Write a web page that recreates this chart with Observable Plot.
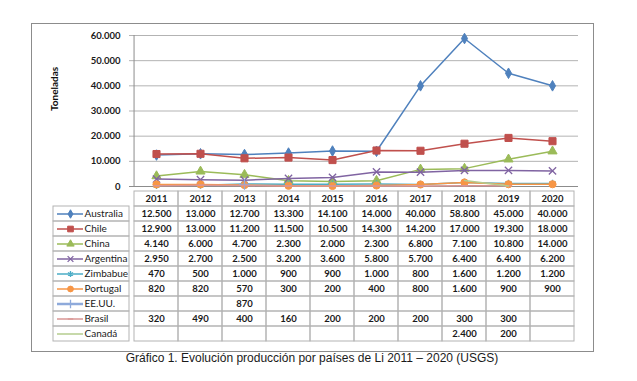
<!DOCTYPE html>
<html>
<head>
<meta charset="utf-8">
<script src="https://cdn.jsdelivr.net/npm/d3@7"></script>
<script src="https://cdn.jsdelivr.net/npm/@observablehq/plot@0.6"></script>
<style>
  html, body { margin: 0; padding: 0; background: #fff; }
  #wrap { position: relative; width: 637px; height: 381px; overflow: hidden; background: #fff; }
  #wrap svg { position: absolute; left: 0; top: 0; }
  #frame { position: absolute; left: 31px; top: 23px; width: 563px; height: 329px; box-sizing: border-box; border: 1px solid #8c8c8c; }
  #caption { position: absolute; left: 0; top: 352px; width: 624px; text-align: center; font: 12px "Liberation Sans", Arial, sans-serif; line-height: 12px; color: #1a1a1a; white-space: nowrap; }
</style>
</head>
<body>
<div id="wrap">
  <div id="frame"></div>
  <div id="caption">Gráfico 1. Evolución producción por países de Li 2011 – 2020 (USGS)</div>
</div>
<script>
// ---- Data ----
const years = ["2011","2012","2013","2014","2015","2016","2017","2018","2019","2020"];
const countries = ["Australia","Chile","China","Argentina","Zimbabue","Portugal","EE.UU.","Brasil","Canadá"];
const australia = [12500,13000,12700,13300,14100,14000,40000,58800,45000,40000];
const chile     = [12900,13000,11200,11500,10500,14300,14200,17000,19300,18000];
const china     = [4140,6000,4700,2300,2000,2300,6800,7100,10800,14000];
const argentina = [2950,2700,2500,3200,3600,5800,5700,6400,6400,6200];
const zimbabue  = [470,500,1000,900,900,1000,800,1600,1200,1200];
const portugal  = [820,820,570,300,200,400,800,1600,900,900];
const eeuu      = [null,null,870,null,null,null,null,null,null,null];
const brasil    = [320,490,400,160,200,200,200,300,300,null];
const canada    = [null,null,null,null,null,null,null,2400,200,null];
const yTicks = [0,10000,20000,30000,40000,50000,60000];
const yLabel = "Toneladas";
const HEADER = "Año";

// ---- Styles ----
const seriesValues = [australia, chile, china, argentina, zimbabue, portugal, eeuu, brasil, canada];
const colors = ["#4F81BD","#C0504D","#9BBB59","#8064A2","#4BACC6","#F79646","#8EAADB","#D99694","#B5CC8E"];
const dash = {draw(ctx, size) { const r = Math.sqrt(size / Math.PI); ctx.moveTo(-r, 0); ctx.lineTo(r, 0); }};
const symbols = ["diamond","square","triangle","times","asterisk","circle","plus",dash,null];
const filled  = [true,true,true,false,false,true,false,false,false];
const radii   = [3.2,4,3.4,3.4,3.4,3.6,3.6,3.4,0];
const lineW   = [1.5,1.5,1.5,1.5,1.5,1.5,2.5,1.5,1.5];

const fmt = d3.formatLocale({decimal: ",", thousands: ".", grouping: [3], currency: ["", ""]}).format(",");
const rows = countries.flatMap((c, i) => years.map((y, j) => ({country: c, year: y, value: seriesValues[i][j]})));

const W = 637, H = 381;
const ML = 129, MR = 59;
const colW = (W - ML - MR) / years.length;
const FONT = "Lato, 'Open Sans', sans-serif";
const gridColor = "#b3b3b3";

function markerOpts(i, r) {
  return filled[i]
    ? {symbol: symbols[i], r, fill: colors[i], stroke: colors[i], strokeWidth: 1}
    : {symbol: symbols[i], r, fill: "none", stroke: colors[i], strokeWidth: 1.3};
}

// ---- Table (cells + numbers) ----
const table = Plot.plot({
  width: W, height: H,
  marginTop: 186, marginBottom: 35.5, marginLeft: ML, marginRight: MR,
  style: {background: "transparent", fontFamily: FONT, fontSize: "9.5px", overflow: "visible"},
  x: {type: "band", domain: years, padding: 0, axis: null},
  y: {type: "band", domain: [HEADER, ...countries], padding: 0, axis: null},
  marks: [
    Plot.cell(years, {x: d => d, y: () => HEADER, fill: "none", stroke: gridColor}),
    Plot.cell(rows, {x: "year", y: "country", fill: "none", stroke: gridColor}),
    Plot.text(years, {x: d => d, y: () => HEADER, text: d => d, fill: "#1a1a1a", fontWeight: "bold"}),
    Plot.text(rows.filter(d => d.value != null), {x: "year", y: "country", text: d => fmt(d.value), fill: "#1a1a1a", fontWeight: "bold"})
  ]
});

// ---- Legend column of the table ----
const legendMarks = [Plot.cell(countries, {y: d => d, fill: "none", stroke: gridColor})];
countries.forEach((c, i) => {
  legendMarks.push(Plot.tickY([c], {y: d => d, stroke: colors[i], strokeWidth: lineW[i], insetLeft: 4, insetRight: 46}));
  if (symbols[i]) legendMarks.push(Plot.dot([c], {y: d => d, frameAnchor: "left", dx: 17, ...markerOpts(i, radii[i] * 0.8)}));
});
legendMarks.push(Plot.text(countries, {y: d => d, text: d => d, frameAnchor: "left", dx: 31, textAnchor: "start", fill: "#1a1a1a"}));
const legend = Plot.plot({
  width: W, height: H,
  marginTop: 186, marginBottom: 35.5, marginLeft: 53, marginRight: W - ML,
  style: {background: "transparent", fontFamily: FONT, fontSize: "10px", overflow: "visible"},
  y: {type: "band", domain: [HEADER, ...countries], padding: 0, axis: null},
  marks: legendMarks
});

// ---- Line chart ----
const seriesMarks = [];
countries.forEach((c, i) => {
  const d = rows.filter(r => r.country === c);
  seriesMarks.push(Plot.line(d, {x: "year", y: "value", stroke: colors[i], strokeWidth: 1.5}));
  if (symbols[i]) seriesMarks.push(Plot.dot(d, {x: "year", y: "value", ...markerOpts(i, radii[i])}));
});
const chart = Plot.plot({
  width: W, height: H,
  marginTop: 35, marginBottom: 195, marginLeft: ML, marginRight: MR,
  style: {background: "transparent", fontFamily: FONT, fontSize: "9.5px", overflow: "visible"},
  x: {type: "point", domain: years, padding: 0.5, axis: null},
  y: {domain: [0, 60000], axis: null},
  marks: [
    Plot.gridY(yTicks, {stroke: gridColor, strokeOpacity: 1}),
    Plot.axisY(yTicks, {tickSize: 0, tickPadding: 9, tickFormat: fmt, label: null, fill: "#1a1a1a", fontWeight: "bold"}),
    Plot.ruleX([years[0]], {dx: -colW / 2, stroke: "#8c8c8c"}),
    Plot.ruleY([0], {stroke: "#8c8c8c"}),
    Plot.text([yLabel], {text: d => d, frameAnchor: "left", rotate: -90, dx: -75, fontWeight: "bold", fill: "#111", fontSize: 10}),
    ...seriesMarks
  ]
});

const wrap = document.getElementById("wrap");
wrap.appendChild(table);
wrap.appendChild(legend);
wrap.appendChild(chart);
</script>
</body>
</html>
